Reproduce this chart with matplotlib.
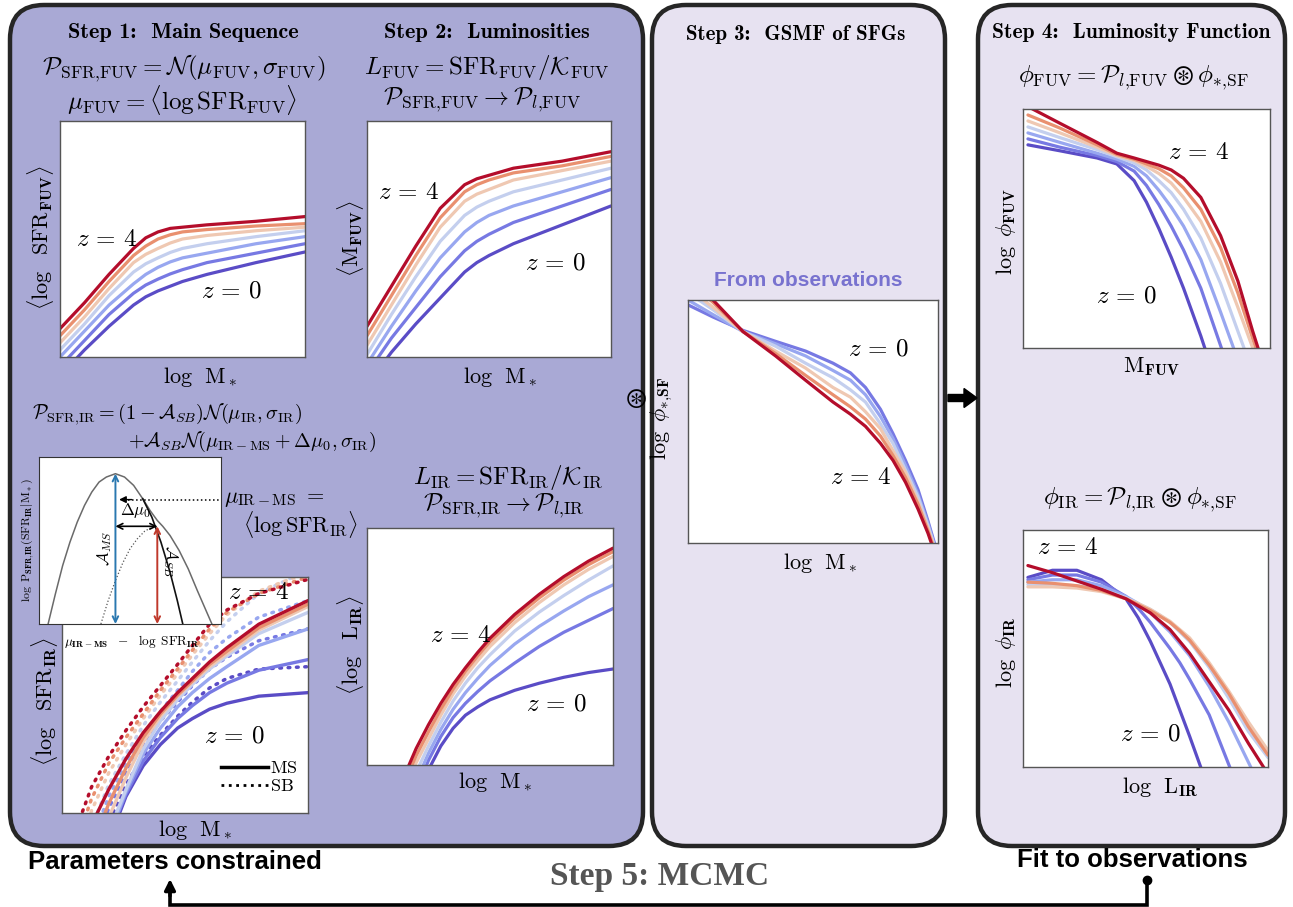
import matplotlib
matplotlib.use("Agg")
import matplotlib.pyplot as plt
from matplotlib.patches import FancyBboxPatch, FancyArrow
from matplotlib.lines import Line2D

plt.rcParams['mathtext.fontset'] = 'cm'
plt.rcParams['font.family'] = ['DejaVu Sans']

W, H = 1293, 907

# colours for z = 0 ... z = 4
zcols = ['#5a4cc6', '#7779e3', '#98a7f0', '#c4cfee', '#efc8b2', '#e9906f', '#b40d2b']

# Step 1: <log SFR_FUV> vs log M*
ms_x = [0, 0.1, 0.2, 0.3, 0.35, 0.4, 0.45, 0.5, 0.6, 0.8, 1.0]
ms_y = [
    [-0.08, 0.03, 0.13, 0.22, 0.255, 0.28, 0.30, 0.32, 0.35, 0.40, 0.445],
    [-0.04, 0.07, 0.18, 0.27, 0.305, 0.33, 0.352, 0.37, 0.40, 0.44, 0.48],
    [0.00, 0.11, 0.22, 0.31, 0.35, 0.38, 0.403, 0.42, 0.44, 0.48, 0.51],
    [0.03, 0.14, 0.26, 0.36, 0.395, 0.42, 0.443, 0.46, 0.48, 0.51, 0.535],
    [0.06, 0.17, 0.29, 0.40, 0.435, 0.46, 0.483, 0.50, 0.515, 0.535, 0.55],
    [0.09, 0.20, 0.32, 0.43, 0.47, 0.50, 0.518, 0.53, 0.54, 0.555, 0.565],
    [0.12, 0.23, 0.35, 0.46, 0.505, 0.53, 0.545, 0.55, 0.56, 0.575, 0.595],
]

# Step 2: <M_FUV> vs log M*
mfuv_x = [0, 0.1, 0.2, 0.3, 0.4, 0.45, 0.5, 0.6, 0.7, 0.8, 1.0]
mfuv_y = [
    [-0.12, 0.02, 0.14, 0.25, 0.36, 0.40, 0.43, 0.48, 0.52, 0.56, 0.64],
    [-0.07, 0.08, 0.21, 0.34, 0.45, 0.49, 0.52, 0.57, 0.605, 0.64, 0.71],
    [-0.03, 0.13, 0.28, 0.42, 0.53, 0.57, 0.60, 0.64, 0.67, 0.70, 0.76],
    [0.01, 0.18, 0.34, 0.49, 0.60, 0.635, 0.66, 0.70, 0.725, 0.75, 0.80],
    [0.05, 0.22, 0.39, 0.55, 0.66, 0.69, 0.71, 0.75, 0.77, 0.79, 0.83],
    [0.09, 0.26, 0.43, 0.59, 0.70, 0.73, 0.75, 0.78, 0.795, 0.81, 0.85],
    [0.13, 0.30, 0.47, 0.63, 0.73, 0.755, 0.77, 0.80, 0.815, 0.83, 0.87],
]

# <log SFR_IR> vs log M*, main sequence (solid) and starburst (dotted)
sfrir_x = [0.06, 0.12, 0.19, 0.26, 0.33, 0.4, 0.47, 0.53, 0.6, 0.67, 0.8, 1.0]
sfrir_ms = [
    [-0.9, -0.5, -0.12, 0.07, 0.20, 0.29, 0.36, 0.40, 0.44, 0.465, 0.495, 0.51],
    [-0.8, -0.45, -0.1, 0.08, 0.22, 0.32, 0.40, 0.455, 0.51, 0.55, 0.605, 0.65],
    [-0.7, -0.4, -0.1, 0.09, 0.25, 0.36, 0.45, 0.51, 0.57, 0.62, 0.71, 0.78],
    [-0.6, -0.35, -0.08, 0.10, 0.27, 0.39, 0.48, 0.545, 0.61, 0.665, 0.76, 0.85],
    [-0.5, -0.25, -0.02, 0.15, 0.30, 0.41, 0.495, 0.555, 0.62, 0.675, 0.775, 0.875],
    [-0.4, -0.15, 0.04, 0.19, 0.32, 0.42, 0.50, 0.56, 0.63, 0.685, 0.785, 0.885],
    [-0.25, -0.05, 0.10, 0.23, 0.34, 0.43, 0.51, 0.57, 0.64, 0.70, 0.80, 0.90],
]
sfrir_sb = [
    [-0.60, -0.25, -0.04, 0.12, 0.24, 0.33, 0.41, 0.47, 0.53, 0.57, 0.61, 0.62],
    [-0.50, -0.18, 0.02, 0.17, 0.29, 0.39, 0.47, 0.54, 0.61, 0.66, 0.73, 0.78],
    [-0.40, -0.12, 0.07, 0.21, 0.33, 0.43, 0.52, 0.60, 0.68, 0.74, 0.83, 0.90],
    [-0.30, -0.06, 0.12, 0.25, 0.37, 0.47, 0.56, 0.64, 0.73, 0.81, 0.93, 1.03],
    [-0.20, 0.01, 0.17, 0.29, 0.40, 0.50, 0.59, 0.67, 0.76, 0.84, 0.94, 1.02],
    [-0.12, 0.06, 0.21, 0.32, 0.42, 0.52, 0.61, 0.69, 0.78, 0.85, 0.93, 1.00],
    [-0.06, 0.11, 0.24, 0.35, 0.45, 0.54, 0.63, 0.71, 0.80, 0.86, 0.93, 0.99],
]

# <log L_IR> vs log M*
lir_x = [0.15, 0.2, 0.25, 0.3, 0.35, 0.4, 0.45, 0.5, 0.6, 0.7, 0.8, 0.9, 1.0]
lir_y = [
    [-0.30, -0.15, -0.02, 0.08, 0.155, 0.21, 0.245, 0.275, 0.315, 0.345, 0.37, 0.39, 0.405],
    [-0.25, -0.11, 0.02, 0.12, 0.20, 0.26, 0.31, 0.355, 0.43, 0.50, 0.56, 0.61, 0.66],
    [-0.20, -0.07, 0.05, 0.15, 0.235, 0.305, 0.365, 0.42, 0.51, 0.585, 0.65, 0.71, 0.76],
    [-0.16, -0.03, 0.08, 0.18, 0.27, 0.345, 0.41, 0.465, 0.565, 0.645, 0.715, 0.78, 0.84],
    [-0.12, 0.01, 0.11, 0.21, 0.30, 0.375, 0.44, 0.50, 0.60, 0.685, 0.76, 0.825, 0.88],
    [-0.08, 0.04, 0.14, 0.235, 0.32, 0.395, 0.46, 0.52, 0.62, 0.705, 0.78, 0.845, 0.90],
    [-0.05, 0.07, 0.17, 0.26, 0.34, 0.41, 0.475, 0.535, 0.635, 0.72, 0.795, 0.86, 0.915],
]

# inset: log P(SFR_IR | M*)
pdf_x = [0.05, 0.09, 0.13, 0.17, 0.21, 0.25, 0.29, 0.33, 0.37, 0.42, 0.47, 0.52,
         0.57, 0.61, 0.65, 0.68, 0.72, 0.77, 0.82, 0.87, 0.91, 0.95]
pdf_tot = [0.0, 0.18, 0.35, 0.49, 0.61, 0.71, 0.79, 0.85, 0.88, 0.90, 0.88, 0.83,
           0.75, 0.68, 0.62, 0.585, 0.53, 0.44, 0.33, 0.20, 0.10, 0.0]
pdf_ms_x = [0.57, 0.62, 0.67, 0.72, 0.76, 0.79]
pdf_ms_y = [0.75, 0.64, 0.49, 0.31, 0.14, 0.0]
pdf_sb_x = [0.34, 0.38, 0.42, 0.46, 0.50, 0.54, 0.58, 0.62, 0.65]
pdf_sb_y = [0.0, 0.14, 0.26, 0.365, 0.45, 0.51, 0.555, 0.58, 0.585]
mu_ms_level = 0.745

# Step 3: GSMF of SFGs
gsmf_x = [0, 0.1, 0.22, 0.35, 0.47, 0.58, 0.65, 0.71, 0.77, 0.82, 0.87, 0.92, 0.96, 1.0]
gsmf_y = [
    [0.98, 0.93, 0.875, 0.83, 0.79, 0.74, 0.70, 0.64, 0.55, 0.45, 0.34, 0.22, 0.09, -0.05],
    [1.00, 0.94, 0.87, 0.82, 0.77, 0.71, 0.67, 0.61, 0.52, 0.43, 0.32, 0.20, 0.08, -0.06],
    [1.03, 0.96, 0.87, 0.81, 0.74, 0.68, 0.63, 0.58, 0.49, 0.41, 0.30, 0.19, 0.07, -0.06],
    [1.05, 0.97, 0.87, 0.79, 0.72, 0.64, 0.60, 0.54, 0.47, 0.38, 0.29, 0.17, 0.06, -0.07],
    [1.08, 0.99, 0.87, 0.78, 0.69, 0.61, 0.56, 0.51, 0.44, 0.36, 0.27, 0.16, 0.05, -0.07],
    [1.10, 1.00, 0.87, 0.77, 0.67, 0.58, 0.53, 0.48, 0.41, 0.34, 0.25, 0.14, 0.04, -0.08],
]

# Step 4: luminosity functions
lffuv_x = [0.02, 0.15, 0.3, 0.38, 0.45, 0.5, 0.55, 0.6, 0.65, 0.72, 0.8, 0.87, 0.93, 0.97]
lffuv_y = [
    [0.85, 0.825, 0.795, 0.77, 0.70, 0.61, 0.50, 0.38, 0.25, 0.05, -0.2, -0.4, -0.6, -0.7],
    [0.875, 0.84, 0.805, 0.78, 0.74, 0.68, 0.60, 0.51, 0.41, 0.25, 0.01, -0.2, -0.4, -0.5],
    [0.90, 0.86, 0.815, 0.79, 0.76, 0.72, 0.66, 0.59, 0.51, 0.37, 0.15, -0.05, -0.2, -0.3],
    [0.925, 0.88, 0.83, 0.80, 0.775, 0.745, 0.70, 0.65, 0.58, 0.46, 0.27, 0.07, -0.1, -0.2],
    [0.95, 0.90, 0.84, 0.805, 0.785, 0.76, 0.73, 0.69, 0.63, 0.53, 0.36, 0.17, 0.0, -0.1],
    [0.975, 0.92, 0.85, 0.81, 0.79, 0.77, 0.75, 0.72, 0.67, 0.58, 0.42, 0.23, 0.04, -0.08],
    [1.01, 0.94, 0.86, 0.815, 0.795, 0.78, 0.765, 0.745, 0.71, 0.63, 0.47, 0.28, 0.07, -0.06],
]
lfir_x = [0.02, 0.12, 0.22, 0.32, 0.42, 0.47, 0.52, 0.56, 0.6, 0.64, 0.68, 0.76, 0.84, 0.92, 1.0]
lfir_y = [
    [0.80, 0.83, 0.83, 0.79, 0.71, 0.63, 0.53, 0.44, 0.35, 0.24, 0.13, -0.1, -0.3, -0.5, -0.7],
    [0.79, 0.81, 0.81, 0.78, 0.72, 0.67, 0.61, 0.555, 0.50, 0.44, 0.37, 0.22, 0.01, -0.2, -0.4],
    [0.78, 0.79, 0.79, 0.765, 0.72, 0.69, 0.65, 0.61, 0.57, 0.52, 0.47, 0.34, 0.19, 0.02, -0.15],
    [0.77, 0.77, 0.765, 0.75, 0.715, 0.69, 0.665, 0.64, 0.61, 0.57, 0.53, 0.42, 0.29, 0.15, 0.04],
    [0.76, 0.76, 0.755, 0.74, 0.71, 0.69, 0.665, 0.64, 0.615, 0.58, 0.545, 0.44, 0.32, 0.19, 0.07],
    [0.78, 0.775, 0.765, 0.745, 0.71, 0.685, 0.66, 0.635, 0.61, 0.575, 0.535, 0.43, 0.31, 0.17, 0.05],
    [0.85, 0.82, 0.785, 0.75, 0.71, 0.68, 0.65, 0.615, 0.58, 0.53, 0.48, 0.36, 0.24, 0.10, -0.03],
]


def px_rect(x0, y0, x1, y1):
    return [x0 / W, 1 - y1 / H, (x1 - x0) / W, (y1 - y0) / H]


def panel(box, xs, ys, cols, ls='-', lw=2.3):
    ax = fig.add_axes(px_rect(*box))
    for y, c in zip(ys, cols):
        ax.plot(xs, y, color=c, lw=lw, ls=ls, solid_capstyle='round',
                solid_joinstyle='round', dash_capstyle='round')
    ax.set_xlim(0, 1)
    ax.set_ylim(0, 1)
    ax.set_xticks([])
    ax.set_yticks([])
    for s in ax.spines.values():
        s.set_color('#555555')
        s.set_linewidth(1.0)
    return ax


fig = plt.figure(figsize=(W / 100, H / 100), dpi=100)

# background: the three rounded step boxes
bg = fig.add_axes([0, 0, 1, 1])
bg.set_xlim(0, W)
bg.set_ylim(H, 0)
bg.axis('off')
for (x0, x1), fc in [((10, 643), '#a9a9d5'), ((652, 945), '#e7e2f1'), ((978, 1285), '#e7e2f1')]:
    bg.add_patch(FancyBboxPatch((x0, 5), x1 - x0, 841,
                                boxstyle='round,pad=0,rounding_size=34',
                                fc=fc, ec='#262626', lw=3.2))

zkw = dict(fontsize=18, ha='center', va='center')

ax1 = panel((60, 121, 305, 357), ms_x, ms_y, zcols)
ax1.text(0.19, 0.50, r'$z\,=\,4$', transform=ax1.transAxes, **zkw)
ax1.text(0.70, 0.28, r'$z\,=\,0$', transform=ax1.transAxes, **zkw)

ax2 = panel((367, 121, 611, 357), mfuv_x, mfuv_y, zcols)
ax2.text(0.17, 0.70, r'$z\,=\,4$', transform=ax2.transAxes, **zkw)
ax2.text(0.77, 0.40, r'$z\,=\,0$', transform=ax2.transAxes, **zkw)

ax3 = panel((62, 577, 308, 813), sfrir_x, sfrir_sb, zcols, ls=(0, (0.5, 1.9)), lw=2.5)
for y, c in zip(sfrir_ms, zcols):
    ax3.plot(sfrir_x, y, color=c, lw=2.4, solid_capstyle='round', solid_joinstyle='round')
ax3.text(0.80, 0.935, r'$z\,=\,4$', transform=ax3.transAxes, **zkw)
ax3.text(0.70, 0.33, r'$z\,=\,0$', transform=ax3.transAxes, **zkw)
ax3.legend([Line2D([], [], color='k', lw=2.5), Line2D([], [], color='k', lw=2, ls=':')],
           [r'$\rm MS$', r'$\rm SB$'], loc='lower right', bbox_to_anchor=(1.0, 0.03),
           frameon=False, fontsize=13, handlelength=2.6, handletextpad=0.1,
           labelspacing=0.0, borderaxespad=0.2)

ax4 = panel((367, 528, 613, 765), lir_x, lir_y, zcols)
ax4.text(0.38, 0.55, r'$z\,=\,4$', transform=ax4.transAxes, **zkw)
ax4.text(0.77, 0.26, r'$z\,=\,0$', transform=ax4.transAxes, **zkw)

# inset with the MS + SB distribution
ins = fig.add_axes(px_rect(39, 457, 221, 624))
ins.plot(pdf_x, pdf_tot, color='#6a6a6a', lw=1.1)
ins.plot(pdf_ms_x, pdf_ms_y, color='#111111', lw=1.2)
ins.plot(pdf_sb_x, pdf_sb_y, color='#555555', lw=0.9, ls=':')
ins.set_xlim(0, 1)
ins.set_ylim(0, 1)
ins.set_xticks([])
ins.set_yticks([])
for s in ins.spines.values():
    s.set_color('#333333')
ms_peak = pdf_x[pdf_tot.index(max(pdf_tot))]
sb_peak_x, sb_peak_y = pdf_sb_x[-1], pdf_sb_y[-1]
ins.annotate('', xy=(ms_peak, max(pdf_tot)), xytext=(ms_peak, 0),
             arrowprops=dict(arrowstyle='<->', color='#2a78b0', lw=1.4, shrinkA=0, shrinkB=0))
ins.annotate('', xy=(sb_peak_x, sb_peak_y), xytext=(sb_peak_x, 0),
             arrowprops=dict(arrowstyle='<->', color='#c0392b', lw=1.4, shrinkA=0, shrinkB=0))
ins.annotate('', xy=(ms_peak, sb_peak_y), xytext=(sb_peak_x, sb_peak_y),
             arrowprops=dict(arrowstyle='<->', color='k', lw=1.2, shrinkA=0, shrinkB=0))
ins.plot([ms_peak + 0.07, 1.0], [mu_ms_level, mu_ms_level], color='k', lw=1.1, ls=':')
ins.annotate('', xy=(ms_peak + 0.02, mu_ms_level), xytext=(ms_peak + 0.09, mu_ms_level),
             arrowprops=dict(arrowstyle='-|>', color='k', lw=1, shrinkA=0, shrinkB=0))
ins.text(0.53, 0.68, r'$\Delta\mu_0$', fontsize=12, ha='center', va='center')
ins.text(ms_peak - 0.06, 0.45, r'$\mathcal{A}_{MS}$', fontsize=12, rotation=90,
         ha='center', va='center')
ins.text(sb_peak_x + 0.07, 0.38, r'$\mathcal{A}_{SB}$', fontsize=12, rotation=-90,
         ha='center', va='center')

ax5 = panel((688, 300, 938, 543), gsmf_x, gsmf_y, zcols[1:])
ax5.text(0.76, 0.80, r'$z\,=\,0$', transform=ax5.transAxes, **zkw)
ax5.text(0.69, 0.27, r'$z\,=\,4$', transform=ax5.transAxes, **zkw)

ax6 = panel((1023, 109, 1270, 348), lffuv_x, lffuv_y, zcols)
ax6.text(0.71, 0.82, r'$z\,=\,4$', transform=ax6.transAxes, **zkw)
ax6.text(0.42, 0.22, r'$z\,=\,0$', transform=ax6.transAxes, **zkw)

ax7 = panel((1023, 530, 1268, 767), lfir_x, lfir_y, zcols)
ax7.text(0.18, 0.93, r'$z\,=\,4$', transform=ax7.transAxes, **zkw)
ax7.text(0.52, 0.14, r'$z\,=\,0$', transform=ax7.transAxes, **zkw)

# overlay for text and arrows
fg = fig.add_axes([0, 0, 1, 1])
fg.set_zorder(10)
fg.patch.set_alpha(0)
fg.set_xlim(0, W)
fg.set_ylim(H, 0)
fg.axis('off')

c = dict(ha='center', va='center')
step = dict(family='cmb10', **c)
fg.text(183, 33, 'Step 1:  Main Sequence', fontsize=16, **step)
fg.text(487, 33, 'Step 2:  Luminosities', fontsize=16, **step)
fg.text(796, 34, 'Step 3:  GSMF of SFGs', fontsize=15, **step)
fg.text(1131, 33, 'Step 4:  Luminosity Function', fontsize=15.5, **step)

fs = 18
fg.text(184, 68, r'$\mathcal{P}_{\rm SFR{,}FUV} = \mathcal{N}(\mu_{\rm FUV}, \sigma_{\rm FUV})$', fontsize=fs, **c)
fg.text(182, 100, r'$\mu_{\rm FUV} = \langle \log {\rm SFR}_{\rm FUV} \rangle$', fontsize=fs, **c)
fg.text(487, 68, r'$L_{\rm FUV} = {\rm SFR}_{\rm FUV}/\mathcal{K}_{\rm FUV}$', fontsize=fs, **c)
fg.text(482, 100, r'$\mathcal{P}_{\rm SFR{,}FUV} \rightarrow \mathcal{P}_{l{,}\rm FUV}$', fontsize=fs, **c)
fg.text(32, 414, r'$\mathcal{P}_{\rm SFR{,}IR} = (1-\mathcal{A}_{SB})\mathcal{N}(\mu_{\rm IR}, \sigma_{\rm IR})$',
        fontsize=14.5, ha='left', va='center')
fg.text(128, 442, r'$+\mathcal{A}_{SB}\mathcal{N}(\mu_{\rm IR-MS} + \Delta\mu_0, \sigma_{\rm IR})$',
        fontsize=14.5, ha='left', va='center')
fg.text(224, 499, r'$\mu_{\rm IR-MS}\ =$', fontsize=16, ha='left', va='center')
fg.text(243, 524, r'$\langle \log {\rm SFR}_{\rm IR} \rangle$', fontsize=16, ha='left', va='center')
fg.text(508, 478, r'$L_{\rm IR} = {\rm SFR}_{\rm IR}/\mathcal{K}_{\rm IR}$', fontsize=fs, **c)
fg.text(504, 506, r'$\mathcal{P}_{\rm SFR{,}IR} \rightarrow \mathcal{P}_{l{,}\rm IR}$', fontsize=fs, **c)
fg.text(1133, 78, r'$\phi_{\rm FUV} = \mathcal{P}_{l{,}\rm FUV} \circledast \phi_{*{,}\rm SF}$', fontsize=fs, **c)
fg.text(1140, 500, r'$\phi_{\rm IR} = \mathcal{P}_{l{,}\rm IR} \circledast \phi_{*{,}\rm SF}$', fontsize=fs, **c)

fg.text(808, 281, 'From observations', fontsize=15, fontweight='bold', color='#7872cf',
        family='Liberation Sans', **c)

# axis labels
lab = 16
for x, y, s in [(200, 377, r'${\rm log}\ \ {\rm M}_*$'), (500, 377, r'${\rm log}\ \ {\rm M}_*$'),
                (195, 830, r'${\rm log}\ \ {\rm M}_*$'), (495, 782, r'${\rm log}\ \ {\rm M}_*$'),
                (820, 563, r'${\rm log}\ \ {\rm M}_*$'), (1151, 367, r'${\rm M}_{\bf FUV}$'),
                (1160, 787, r'${\rm log}\ \ {\rm L}_{\bf IR}$')]:
    fg.text(x, y, s, fontsize=lab, **c)
for x, y, s in [(41, 238, r'$\langle \log\ \ {\rm SFR}_{\bf FUV} \rangle$'),
                (350, 238, r'$\langle {\rm M}_{\bf FUV} \rangle$'),
                (44, 702, r'$\langle \log\ \ {\rm SFR}_{\bf IR} \rangle$'),
                (351, 645, r'$\langle \log\ \ {\rm L}_{\bf IR} \rangle$'),
                (662, 418, r'$\log\ \phi_{*{,}\bf SF}$'),
                (1006, 232, r'$\log\ \phi_{\bf FUV}$'),
                (1006, 652, r'$\log\ \phi_{\bf IR}$')]:
    fg.text(x, y, s, fontsize=lab, rotation=90, **c)
fg.text(28, 540, r'$\log\ {\rm P}_{\bf SFR{,}IR}({\rm SFR}_{\bf IR}|{\rm M}_*)$', fontsize=8.5,
        rotation=90, **c)
fg.text(132, 641, r'$\mu_{\bf IR-MS}\ \ -\ \ \log\ {\rm SFR}_{\bf IR}$', fontsize=9.5, **c)

# convolution sign and arrow to step 4
fg.text(636, 398, r'$\circledast$', fontsize=18, **c)
fg.add_patch(FancyArrow(948, 398, 29, 0, width=7, head_width=19, head_length=13,
                        length_includes_head=True, color='k'))

# bottom: MCMC loop
fg.text(175, 862, 'Parameters constrained', fontsize=18.5, fontweight='bold',
        family='Liberation Sans', **c)
fg.text(1132, 860, 'Fit to observations', fontsize=18.5, fontweight='bold',
        family='Liberation Sans', **c)
fg.text(660, 877, 'Step 5: MCMC', fontsize=24, fontweight='bold', color='#555555',
        family='Liberation Serif', **c)
fg.plot([1147, 1147, 170, 170], [880, 905, 905, 893], color='k', lw=2.6,
        solid_joinstyle='miter')
fg.plot([1147], [880], 'o', color='k', ms=6)
fg.annotate('', xy=(170, 879), xytext=(170, 896),
            arrowprops=dict(arrowstyle='-|>', color='k', lw=2.4, mutation_scale=16,
                            shrinkA=0, shrinkB=0))

fig.savefig('out.png', dpi=100)
